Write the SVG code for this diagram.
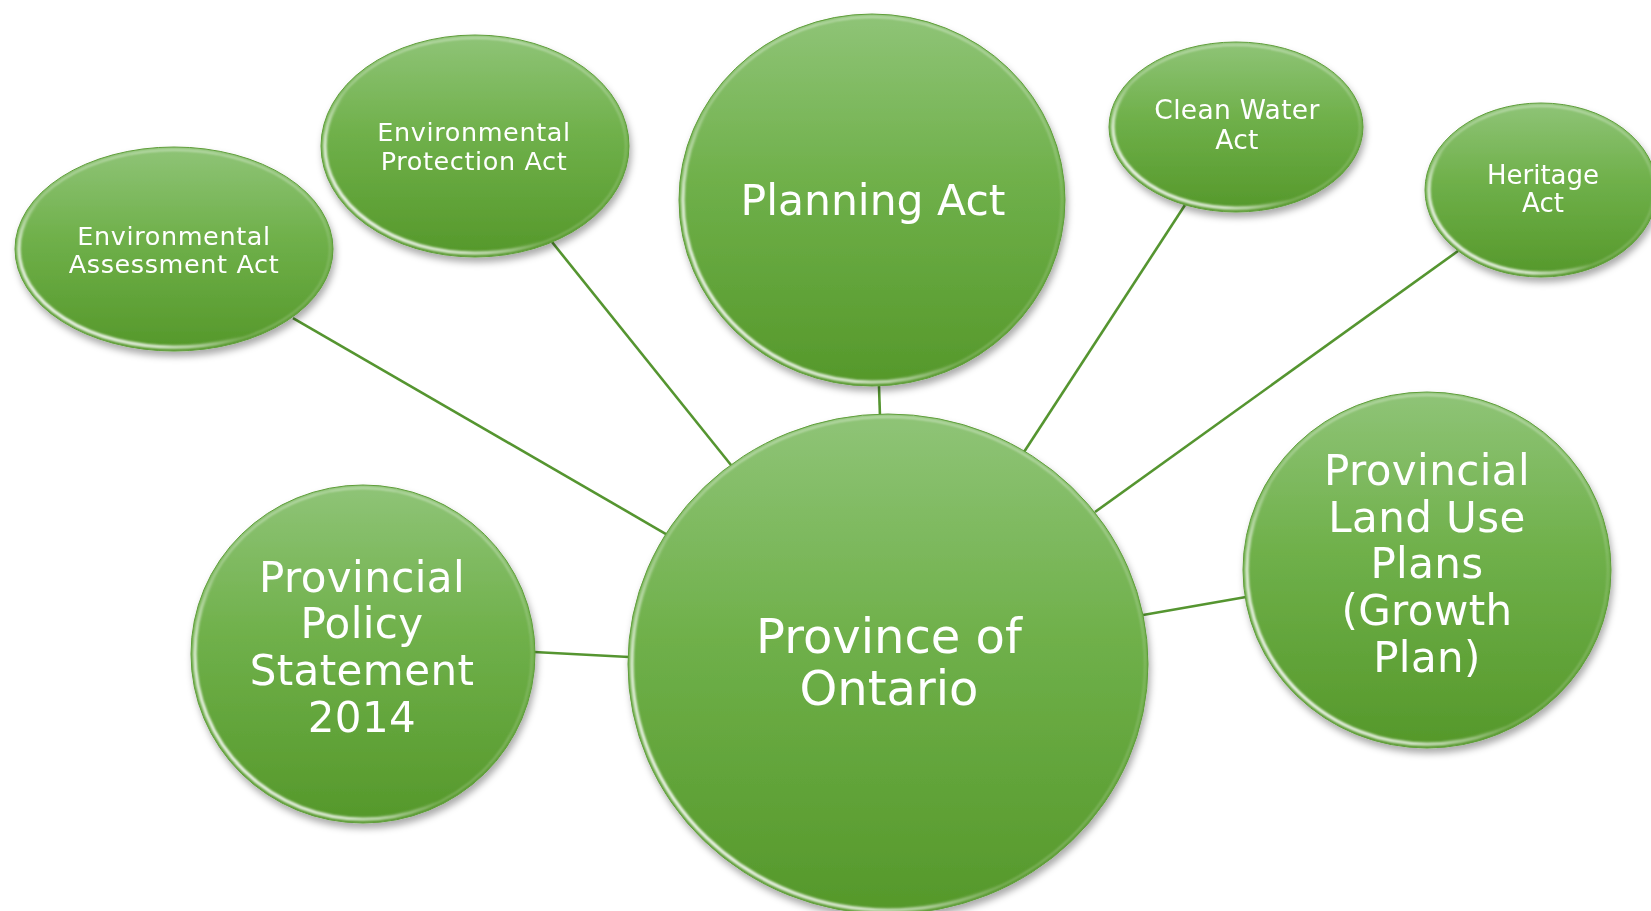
<svg xmlns="http://www.w3.org/2000/svg" width="1651" height="911" viewBox="0 0 1651 911">
  <defs>
    <linearGradient id="ballFill" x1="0" y1="0" x2="0" y2="1">
      <stop offset="0" stop-color="#8fc477"/>
      <stop offset="0.45" stop-color="#6fb04a"/>
      <stop offset="1" stop-color="#55982a"/>
    </linearGradient>
    <!-- bright glint on the lower-left edge of each bubble -->
    <linearGradient id="glint" x1="0" y1="0.85" x2="0.8" y2="0.1">
      <stop offset="0" stop-color="#ffffff" stop-opacity="1"/>
      <stop offset="0.22" stop-color="#ffffff" stop-opacity="0.75"/>
      <stop offset="0.42" stop-color="#ffffff" stop-opacity="0"/>
      <stop offset="1" stop-color="#ffffff" stop-opacity="0"/>
    </linearGradient>
    <!-- faint light line along the inside of the rim, stronger at the top -->
    <linearGradient id="rimLine" x1="0" y1="0" x2="0" y2="1">
      <stop offset="0" stop-color="#ffffff" stop-opacity="0.55"/>
      <stop offset="0.5" stop-color="#ffffff" stop-opacity="0.2"/>
      <stop offset="1" stop-color="#ffffff" stop-opacity="0.3"/>
    </linearGradient>
    <filter id="dropShadow" x="-10%" y="-10%" width="125%" height="130%">
      <feGaussianBlur in="SourceAlpha" stdDeviation="3.5"/>
      <feOffset dx="2" dy="5" result="blur"/>
      <feFlood flood-color="#000000" flood-opacity="0.33"/>
      <feComposite in2="blur" operator="in"/>
      <feMerge>
        <feMergeNode/>
        <feMergeNode in="SourceGraphic"/>
      </feMerge>
    </filter>
    <filter id="softRim" x="-5%" y="-5%" width="110%" height="110%">
      <feGaussianBlur stdDeviation="0.8"/>
    </filter>
  </defs>
  <style>
    .ball { fill: url(#ballFill); stroke: #5d9c38; stroke-width: 1; }
    .rim { fill: none; stroke: url(#rimLine); stroke-width: 1.6; filter: url(#softRim); }
    .glint { fill: none; stroke: url(#glint); stroke-width: 3.2; filter: url(#softRim); }
    .link { stroke: #559530; stroke-width: 2.6; fill: none; stroke-linecap: butt; }
    .label { fill: #ffffff; font-family: "DejaVu Sans", Verdana, sans-serif; text-anchor: middle; }
    .small { font-size: 25.5px; letter-spacing: 0.6px; }
    .medium { font-size: 26.5px; letter-spacing: 0.3px; }
    .large { font-size: 42px; letter-spacing: 0.4px; }
  </style>

  <rect width="1651" height="911" fill="#ffffff"/>

  <!-- spokes from the hub to every surrounding bubble -->
  <g id="connectors">
    <line class="link" x1="293" y1="318" x2="666" y2="534"/>
    <line class="link" x1="552" y1="242" x2="731" y2="465"/>
    <line class="link" x1="879" y1="386" x2="880" y2="417"/>
    <line class="link" x1="1185" y1="205" x2="1024" y2="452"/>
    <line class="link" x1="1458" y1="251" x2="1095" y2="512"/>
    <line class="link" x1="1246" y1="597" x2="1143" y2="615"/>
    <line class="link" x1="534" y1="652" x2="629" y2="657"/>
  </g>

  <g id="node-env-assessment" filter="url(#dropShadow)">
    <ellipse class="ball" cx="174" cy="249" rx="159" ry="102"/>
    <ellipse class="rim" cx="174" cy="249" rx="156" ry="99"/>
    <ellipse class="glint" cx="174" cy="249" rx="155" ry="98"/>
    <text class="label small"><tspan x="174" y="245">Environmental</tspan><tspan x="174" y="273">Assessment Act</tspan></text>
  </g>

  <g id="node-env-protection" filter="url(#dropShadow)">
    <ellipse class="ball" cx="475" cy="146" rx="154" ry="111"/>
    <ellipse class="rim" cx="475" cy="146" rx="151" ry="108"/>
    <ellipse class="glint" cx="475" cy="146" rx="150" ry="107"/>
    <text class="label small"><tspan x="474" y="141">Environmental</tspan><tspan x="474" y="170">Protection Act</tspan></text>
  </g>

  <g id="node-planning" filter="url(#dropShadow)">
    <ellipse class="ball" cx="872" cy="200" rx="193" ry="186"/>
    <ellipse class="rim" cx="872" cy="200" rx="190" ry="183"/>
    <ellipse class="glint" cx="872" cy="200" rx="189" ry="182"/>
    <text class="label" x="873" y="215" font-size="42.5">Planning Act</text>
  </g>

  <g id="node-clean-water" filter="url(#dropShadow)">
    <ellipse class="ball" cx="1236" cy="127" rx="127" ry="85"/>
    <ellipse class="rim" cx="1236" cy="127" rx="124" ry="82"/>
    <ellipse class="glint" cx="1236" cy="127" rx="123" ry="81"/>
    <text class="label medium"><tspan x="1237" y="119">Clean Water</tspan><tspan x="1237" y="149">Act</tspan></text>
  </g>

  <g id="node-heritage" filter="url(#dropShadow)">
    <ellipse class="ball" cx="1541" cy="190" rx="116" ry="87"/>
    <ellipse class="rim" cx="1541" cy="190" rx="113" ry="84"/>
    <ellipse class="glint" cx="1541" cy="190" rx="112" ry="83"/>
    <text class="label" font-size="26"><tspan x="1543" y="184">Heritage</tspan><tspan x="1543" y="212">Act</tspan></text>
  </g>

  <g id="node-land-use" filter="url(#dropShadow)">
    <ellipse class="ball" cx="1427" cy="570" rx="184" ry="178"/>
    <ellipse class="rim" cx="1427" cy="570" rx="181" ry="175"/>
    <ellipse class="glint" cx="1427" cy="570" rx="180" ry="174"/>
    <text class="label large"><tspan x="1427" y="485">Provincial</tspan><tspan x="1427" y="532">Land Use</tspan><tspan x="1427" y="578">Plans</tspan><tspan x="1427" y="625">(Growth</tspan><tspan x="1427" y="672">Plan)</tspan></text>
  </g>

  <g id="node-policy-statement" filter="url(#dropShadow)">
    <ellipse class="ball" cx="363" cy="654" rx="172" ry="169"/>
    <ellipse class="rim" cx="363" cy="654" rx="169" ry="166"/>
    <ellipse class="glint" cx="363" cy="654" rx="168" ry="165"/>
    <text class="label large"><tspan x="362" y="592">Provincial</tspan><tspan x="362" y="638">Policy</tspan><tspan x="362" y="685">Statement</tspan><tspan x="362" y="732">2014</tspan></text>
  </g>

  <g id="node-ontario" filter="url(#dropShadow)">
    <ellipse class="ball" cx="888" cy="664" rx="260" ry="250"/>
    <ellipse class="rim" cx="888" cy="664" rx="257" ry="247"/>
    <ellipse class="glint" cx="888" cy="664" rx="256" ry="246"/>
    <text class="label" font-size="48"><tspan x="889" y="653">Province of</tspan><tspan x="889" y="705">Ontario</tspan></text>
  </g>
</svg>
